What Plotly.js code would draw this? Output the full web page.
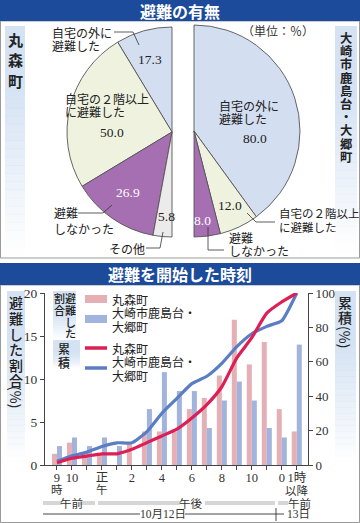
<!DOCTYPE html>
<html><head><meta charset="utf-8">
<script src="https://cdn.plot.ly/plotly-3.0.1.min.js"></script>
<style>html,body{margin:0;padding:0;background:#fff;}#chart{width:360px;height:523px;}</style>
</head><body><div id="chart"></div>
<script>
// ---------- data ----------
const hours = ['9','10','11','12','1','2','3','4','5','6','7','8','9','10','11','0','1+'];
const tickLabels = ['9','10','','正','','2','','4','','6','','8','','10','','0','1時'];
const marumoriShare = [1.3, 2.6, 1.3, 1.3, 0, 2.6, 3.9, 3.9, 3.9, 6.5, 7.8, 10.4, 16.9, 11.7, 14.3, 6.5, 3.9];
const osakiShare    = [2.2, 3.2, 2.2, 3.2, 2.2, 0, 6.5, 10.8, 8.6, 8.6, 4.3, 7.5, 9.7, 7.5, 4.3, 3.2, 14.0];
const marumoriCum   = [1.3, 3.9, 5.2, 6.5, 6.5, 9.1, 13.0, 16.9, 20.8, 27.3, 35.1, 45.5, 62.3, 74.0, 88.3, 94.8, 100];
const osakiCum      = [2.2, 5.4, 7.5, 10.8, 12.9, 12.9, 19.4, 30.1, 38.7, 47.3, 51.6, 59.1, 68.8, 76.3, 80.6, 83.9, 100];
const marumoriPieLabels = ['自宅の外に避難した','自宅の２階以上に避難した','避難しなかった','その他'];
const marumoriPieValues = [17.3, 50.0, 26.9, 5.8];
const osakiPieLabels = ['自宅の外に避難した','自宅の２階以上に避難した','避難しなかった'];
const osakiPieValues = [80.0, 12.0, 8.0];

// ---------- helpers ----------
const W = 360, H = 523;
const px = x => x / W, py = y => 1 - y / H;
const JP = "'Noto Sans CJK JP', sans-serif";
const SERIF = "'Liberation Serif', 'Noto Sans CJK JP', serif";
const shapes = [], annotations = [];
function A(text, x, y, o) {
  const a = {text: text, x: px(x), y: py(y), xref: 'paper', yref: 'paper', showarrow: false,
    xanchor: 'center', yanchor: 'middle', font: {family: JP, size: 12, color: '#222'}};
  return Object.assign(a, o || {});
}
function rect(x0, y0, x1, y1, fill, lc, lw, layer) {
  shapes.push({type: 'rect', xref: 'paper', yref: 'paper', x0: px(x0), x1: px(x1), y0: py(y0), y1: py(y1),
    fillcolor: fill, line: {color: lc || 'rgba(0,0,0,0)', width: lw || 0}, layer: layer || 'below'});
}
function path(pts, color, width) {
  shapes.push({type: 'path', xref: 'paper', yref: 'paper',
    path: 'M' + pts.map(p => px(p[0]) + ',' + py(p[1])).join('L'),
    line: {color: color || '#333', width: width || 0.8}, layer: 'above'});
}
function grad(x0, y0, x1, y1, solid) {
  const n = 28;
  for (let i = 0; i < n; i++) {
    const t = (i + 0.5) / n;
    const op = t < solid ? 1 : Math.max(0, 1 - (t - solid) / (1 - solid));
    const ya = y0 + (y1 - y0) * i / n, yb = y0 + (y1 - y0) * (i + 1) / n + 0.6;
    rect(x0, ya, x1, yb, 'rgba(212,226,243,' + op.toFixed(3) + ')');
  }
}
function vchars(str, x, ys, size, weight) {
  str.split('').forEach((c, i) => annotations.push(A(c, x, ys[i], {font: {family: JP, size: size, color: '#222', weight: weight || 400}})));
}

// ---------- frames / headers ----------
rect(0.5, 21, 359.5, 258, 'rgba(0,0,0,0)', '#9a9a9a', 1);
rect(0.5, 285, 359.5, 522.5, 'rgba(0,0,0,0)', '#9a9a9a', 1);
rect(0, 0, 360, 21, '#1c4b9b');
rect(0, 263, 360, 285, '#1c4b9b');
annotations.push(A('避難の有無', 180, 11, {font: {family: JP, size: 16, color: '#fff', weight: 700}}));
annotations.push(A('避難を開始した時刻', 180, 274, {font: {family: JP, size: 16, color: '#fff', weight: 700}}));

// side label boxes
grad(5, 26, 25, 255, 0.25);
vchars('丸森町', 15, [39, 60, 81], 15, 700);
grad(335, 26, 357, 250, 0.3);
vchars('大崎市鹿島台・大郷町', 346, [38, 51.2, 64.4, 77.6, 90.8, 104, 117.2, 130.4, 143.6, 156.8], 12.3, 700);

// ---------- pie labels ----------
const num = v => v.toFixed(1);
annotations.push(A('自宅の外に', 50, 32, {xanchor: 'left'}));
annotations.push(A('避難した', 50, 45, {xanchor: 'left'}));
path([[114, 32], [133, 32], [139, 45]]);
annotations.push(A(num(marumoriPieValues[0]), 150, 60, {font: {family: SERIF, size: 13.5, color: '#222'}}));
annotations.push(A('自宅の２階以上', 63, 98, {xanchor: 'left'}));
annotations.push(A('に避難した', 63, 112, {xanchor: 'left'}));
annotations.push(A(num(marumoriPieValues[1]), 112, 133, {font: {family: SERIF, size: 13.5, color: '#222'}}));
annotations.push(A(num(marumoriPieValues[2]), 128, 192, {font: {family: SERIF, size: 13.5, color: '#fff'}}));
annotations.push(A(num(marumoriPieValues[3]), 166, 216, {font: {family: SERIF, size: 13.5, color: '#222'}}));
annotations.push(A('避難', 52, 213, {xanchor: 'left'}));
annotations.push(A('しなかった', 52, 228, {xanchor: 'left'}));
path([[78, 213], [103, 213], [112, 205]]);
annotations.push(A('その他', 127, 248));
path([[146, 248], [160, 248], [163, 232]]);

annotations.push(A('（単位：％）', 278, 32, {font: {family: SERIF, size: 12, color: '#333'}}));
annotations.push(A('自宅の外に', 217, 106, {xanchor: 'left'}));
annotations.push(A('避難した', 217, 119, {xanchor: 'left'}));
annotations.push(A(num(osakiPieValues[0]), 255, 138, {font: {family: SERIF, size: 13.5, color: '#222'}}));
annotations.push(A(num(osakiPieValues[1]), 230, 205, {font: {family: SERIF, size: 13.5, color: '#222'}}));
annotations.push(A(num(osakiPieValues[2]), 202, 220, {font: {family: SERIF, size: 13.5, color: '#fff'}}));
annotations.push(A('自宅の２階以上', 277, 213, {xanchor: 'left', font: {family: JP, size: 11.5, color: '#222'}}));
annotations.push(A('に避難した', 277, 227, {xanchor: 'left', font: {family: JP, size: 11.5, color: '#222'}}));
path([[247, 213], [256, 222], [275, 222]]);
annotations.push(A('避難', 227, 238, {xanchor: 'left'}));
annotations.push(A('しなかった', 227, 251, {xanchor: 'left'}));
path([[208, 227], [208, 250], [224, 250]]);

// ---------- bar chart decorations ----------
grad(7, 291, 25, 462, 0.3);
vchars('避難した割合', 16, [302, 318, 334, 349, 365, 380], 14, 500);
annotations.push(A('(%)', 16, 397, {textangle: 90, font: {family: JP, size: 14, color: '#222'}}));
grad(335, 291, 356, 462, 0.3);
vchars('累積', 345, [302, 317], 14, 500);
annotations.push(A('(%)', 345, 337, {textangle: 90, font: {family: JP, size: 14, color: '#222'}}));

// legend
grad(53, 291, 76, 339, 0.4);
vchars('避難した', 70, [298, 310, 321.5, 332.5], 11, 500);
vchars('割合', 59.5, [298, 310], 11, 500);
grad(53, 340, 80, 368, 0.4);
vchars('累積', 64, [348, 362], 12, 500);
rect(85, 295, 107, 303, '#e4b0b6', null, 0, 'above');
rect(85, 315, 107, 323, '#a2b4dc', null, 0, 'above');
path([[85, 348], [107, 348]], '#dc1f55', 3.5);
path([[85, 368], [107, 368]], '#5a7dc4', 3.5);
const LT = {xanchor: 'left', font: {family: JP, size: 12, color: '#222'}};
annotations.push(A('丸森町', 110, 299, LT));
annotations.push(A('大崎市鹿島台・', 110, 312.5, LT));
annotations.push(A('大郷町', 110, 326, LT));
annotations.push(A('丸森町', 110, 348, LT));
annotations.push(A('大崎市鹿島台・', 110, 361.5, LT));
annotations.push(A('大郷町', 110, 375, LT));

// second-line tick labels (data x positions)
const TF = {family: SERIF, size: 12.5, color: '#333'};
[[0, '時'], [3, '午'], [16, '以降']].forEach(d => annotations.push({text: d[1], x: d[0], xref: 'x', y: py(490), yref: 'paper',
  showarrow: false, xanchor: 'center', yanchor: 'middle', font: {family: SERIF, size: 11.5, color: '#333'}}));

// date rows
[[43, 62], [80, 95], [98, 180], [205, 275], [278, 288]].forEach(s => rect(s[0], 501, s[1], 505, '#d6d6d6'));
const DF = {family: JP, size: 11.5, color: '#333'};
annotations.push(A('午前', 71, 503, {font: DF}));
annotations.push(A('午後', 191, 503, {font: DF}));
annotations.push(A('午前', 299, 503, {font: DF}));
path([[43, 514], [140, 514]], '#333', 0.9);
path([[185, 514], [284, 514]], '#333', 0.9);
path([[276, 508], [276, 521]], '#333', 0.9);
annotations.push(A('10月12日', 162.5, 514, {font: {family: SERIF, size: 11.5, color: '#333'}}));
annotations.push(A('13日', 298, 514, {font: {family: SERIF, size: 11.5, color: '#333'}}));

// ---------- traces ----------
const idx = hours.map((_, i) => i);
const mTotal = marumoriPieValues.reduce((a, b) => a + b, 0);
const oTotal = osakiPieValues.reduce((a, b) => a + b, 0);
// plotly places the first counterclockwise slice to the right of 12 o'clock; shift it back
const mRotation = -marumoriPieValues[0] / (2 * mTotal) * 360;
const traces = [
  {type: 'pie', labels: marumoriPieLabels.concat(['_']), values: marumoriPieValues.concat([mTotal]),
   sort: false, direction: 'counterclockwise', rotation: mRotation, textinfo: 'none', hoverinfo: 'none', showlegend: false,
   domain: {x: [px(67), px(277)], y: [py(237), py(27)]},
   marker: {colors: ['#d3def1', '#eef2df', '#a56fb1', '#ebebeb', 'rgba(0,0,0,0)'],
            line: {color: ['#555', '#555', '#555', '#555', 'rgba(0,0,0,0)'], width: [0.9, 0.9, 0.9, 0.9, 0]}}},
  {type: 'pie', labels: osakiPieLabels.concat(['_']), values: osakiPieValues.concat([oTotal]),
   sort: false, direction: 'clockwise', rotation: 0, textinfo: 'none', hoverinfo: 'none', showlegend: false,
   domain: {x: [px(88), px(300)], y: [py(237), py(25)]},
   marker: {colors: ['#d3def1', '#eef2df', '#a56fb1', 'rgba(0,0,0,0)'],
            line: {color: ['#555', '#555', '#555', 'rgba(0,0,0,0)'], width: [0.9, 0.9, 0.9, 0]}}},
  {type: 'bar', x: idx, y: marumoriShare, name: '丸森町', marker: {color: '#e4b0b6'}, xaxis: 'x', yaxis: 'y', hoverinfo: 'none'},
  {type: 'bar', x: idx, y: osakiShare, name: '大崎市鹿島台・大郷町', marker: {color: '#a2b4dc'}, xaxis: 'x', yaxis: 'y', hoverinfo: 'none'},
  {type: 'scatter', mode: 'lines', x: idx, y: osakiCum, xaxis: 'x', yaxis: 'y2', hoverinfo: 'none',
   line: {color: '#5a7dc4', width: 3.2, shape: 'spline', smoothing: 0.5}},
  {type: 'scatter', mode: 'lines', x: idx, y: marumoriCum, xaxis: 'x', yaxis: 'y2', hoverinfo: 'none',
   line: {color: '#dc1f55', width: 3.2, shape: 'spline', smoothing: 0.6}}
];

const axisCommon = {showline: true, linecolor: '#444', linewidth: 1, showgrid: false, zeroline: false,
  ticks: 'outside', ticklen: 4, tickcolor: '#444', fixedrange: true};
const layout = {
  width: W, height: H, margin: {l: 0, r: 0, t: 0, b: 0}, paper_bgcolor: '#fff', plot_bgcolor: 'rgba(0,0,0,0)',
  showlegend: false, hovermode: false, barmode: 'group', bargap: 0.33, bargroupgap: 0,
  xaxis: Object.assign({}, axisCommon, {domain: [px(45), px(308)], range: [-0.8, 16.75], tickmode: 'array',
    tickvals: idx, ticktext: tickLabels, tickfont: TF, tickangle: 0, anchor: 'y', ticklabelstandoff: -3}),
  yaxis: Object.assign({}, axisCommon, {domain: [py(465), py(293)], range: [0, 20], tickmode: 'array',
    tickvals: [0, 5, 10, 15, 20], tickfont: {family: SERIF, size: 13.5, color: '#333'}, anchor: 'x'}),
  yaxis2: Object.assign({}, axisCommon, {overlaying: 'y', side: 'right', anchor: 'x', range: [0, 100], tickmode: 'array',
    tickvals: [0, 20, 40, 60, 80, 100], tickfont: {family: SERIF, size: 13, color: '#333'}}),
  shapes: shapes, annotations: annotations
};
Plotly.newPlot('chart', traces, layout, {staticPlot: true, displayModeBar: false});
</script>
</body></html>
